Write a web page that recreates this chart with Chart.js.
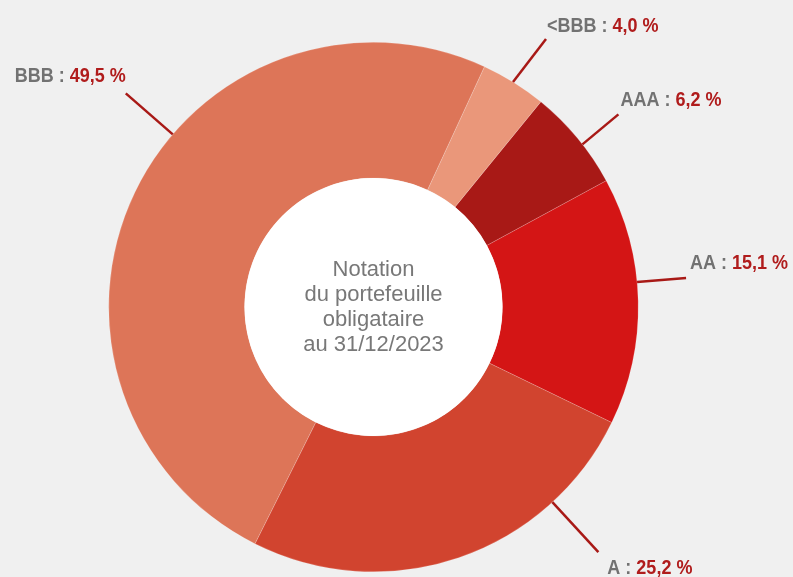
<!DOCTYPE html>
<html>
<head>
<meta charset="utf-8">
<script src="https://cdn.jsdelivr.net/npm/chart.js@4"></script>
<style>
    body {
        margin: 0;
        background: #f0f0f0;
    }
    #wrap {
        position: relative;
        width: 793px;
        height: 577px;
    }
</style>
</head>
<body>
<div id="wrap"><canvas id="notation"></canvas></div>
<script>
// Données : répartition par notation au 31/12/2023
var categories = ["AAA", "AA", "A", "BBB", "<BBB"];
var parts = [6.2, 15.1, 25.2, 49.5, 4.0];
var couleurs = ["#a81916", "#d41515", "#d1442f", "#dd7558", "#ea977a"];
var titreCentre = ["Notation", "du portefeuille", "obligataire", "au 31/12/2023"];

// placement des étiquettes : angle d'accroche sur l'anneau, trait, texte
var placement = [
    { angle: 52.1, trait: [36, -30], align: "left", dx: 2, dy: -14 },
    { angle: 84.6, trait: [49, -4], align: "left", dx: 4, dy: -15 },
    { angle: 137.5, trait: [46, 50], align: "left", dx: 9, dy: 16 },
    { angle: 310.7, trait: [-47, -41], align: "right", dx: 0, dy: -17 },
    { angle: 31.8, trait: [33, -43], align: "left", dx: 1, dy: -13 },
];

function formatPct(v) {
    return v.toFixed(1).replace(".", ",") + " %";
}

var fondBlanc = {
    id: "fondBlanc",
    afterDatasetsDraw(chart) {
        var arc = chart.getDatasetMeta(0).data[0];
        var ctx = chart.ctx;
        ctx.save();
        ctx.beginPath();
        ctx.arc(arc.x, arc.y, arc.innerRadius, 0, Math.PI * 2);
        ctx.fillStyle = "#ffffff";
        ctx.fill();

        // texte central
        ctx.fillStyle = "#787878";
        ctx.font = "22px 'Liberation Sans', Arial, sans-serif";
        ctx.textAlign = "center";
        ctx.textBaseline = "middle";
        var h = 25;
        var y0 = arc.y - ((titreCentre.length - 1) * h) / 2;
        titreCentre.forEach((ligne, i) => {
            ctx.fillText(ligne, arc.x, y0 + i * h);
        });
        ctx.restore();
    },
};

var etiquettes = {
    id: "etiquettes",
    afterDraw(chart) {
        var meta = chart.getDatasetMeta(0);
        var arc = meta.data[0];
        var ctx = chart.ctx;
        var R = arc.outerRadius;
        var sx = 0.9; // police condensée
        categories.forEach((cat, i) => {
            var p = placement[i];
            var a = (p.angle * Math.PI) / 180;
            var x1 = arc.x + R * Math.sin(a);
            var y1 = arc.y - R * Math.cos(a);
            var x2 = x1 + p.trait[0];
            var y2 = y1 + p.trait[1];
            ctx.save();
            ctx.beginPath();
            ctx.moveTo(x1, y1);
            ctx.lineTo(x2, y2);
            ctx.strokeStyle = "#a81916";
            ctx.lineWidth = 2.5;
            ctx.stroke();

            ctx.font = "bold 20px 'Liberation Sans', Arial, sans-serif";
            ctx.textBaseline = "middle";
            ctx.textAlign = "left";
            var t1 = cat + " : ";
            var t2 = formatPct(parts[i]);
            var w1 = ctx.measureText(t1).width;
            var w2 = ctx.measureText(t2).width;
            var tx = p.align === "right" ? x2 + p.dx - (w1 + w2) * sx : x2 + p.dx;
            var ty = y2 + p.dy;
            ctx.translate(tx, ty);
            ctx.scale(sx, 1);
            ctx.fillStyle = "#727272";
            ctx.fillText(t1, 0, 0);
            ctx.fillStyle = "#b01c1c";
            ctx.fillText(t2, w1, 0);
            ctx.restore();
        });
    },
};

new Chart(document.getElementById("notation"), {
    type: "doughnut",
    data: {
        labels: categories,
        datasets: [
            {
                data: parts,
                backgroundColor: couleurs,
                borderColor: "rgba(255,255,255,0.35)",
                borderWidth: 0.5,
            },
        ],
    },
    options: {
        responsive: true,
        maintainAspectRatio: false,
        animation: false,
        rotation: 39.2,
        cutout: "48.7%",
        layout: {
            padding: { top: 42, bottom: 5, left: 0, right: 46 },
        },
        plugins: {
            legend: { display: false },
            tooltip: { enabled: false },
        },
    },
    plugins: [fondBlanc, etiquettes],
});
</script>
</body>
</html>
